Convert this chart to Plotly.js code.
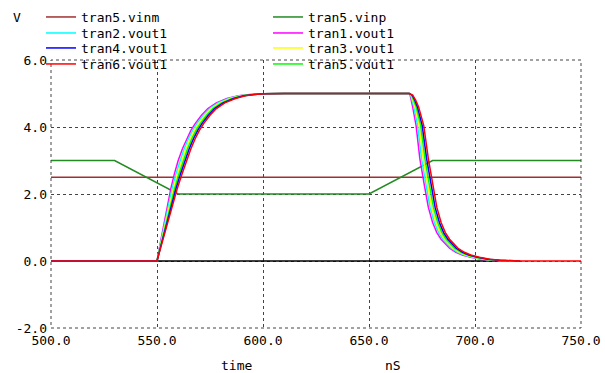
<!DOCTYPE html>
<html>
<head>
<meta charset="utf-8">
<script src="https://cdn.plot.ly/plotly-3.0.1.min.js"></script>
<style>html,body{margin:0;padding:0;background:#fff;}#chart{width:605px;height:373px;}</style>
</head>
<body>
<div id="chart"></div>
<script>
// ---- data ----
const tickVals = [500, 550, 600, 650, 700, 750];
const tickText = ["500.0", "550.0", "600.0", "650.0", "700.0", "750.0"];
const yTickVals = [-2, 0, 2, 4, 6];
const yTickText = ["-2.0", "0.0", "2.0", "4.0", "6.0"];

const vinmTime = [500, 750];
const vinmValues = [2.5, 2.5];
const vinpTime = [500, 530, 560, 650, 680, 750];
const vinpValues = [3.0, 3.0, 2.0, 2.0, 3.0, 3.0];
const groundTime = [550, 720];
const groundValues = [0, 0];

// shared voltage levels for the vout pulses (rise then fall)
const voutValues = [0, 0, 0.55, 1.1, 1.65, 2.15, 2.6, 3.0, 3.35, 3.65, 3.9, 4.1, 4.35, 4.55, 4.72, 4.85, 4.93, 4.97, 4.99, 5.0,
  5.0, 4.95, 4.8, 4.6, 4.05, 3.05, 2.3, 1.6, 1.15, 0.85, 0.65, 0.5, 0.38, 0.26, 0.18, 0.11, 0.05, 0.02, 0.01, 0];
const tran6Values = [0, 0, 0.55, 1.1, 1.65, 2.15, 2.6, 3.0, 3.35, 3.65, 3.9, 4.1, 4.35, 4.55, 4.72, 4.85, 4.93, 4.97, 4.99, 5.0,
  5.0, 4.95, 4.8, 4.6, 4.05, 3.05, 2.3, 1.6, 1.15, 0.85, 0.65, 0.5, 0.38, 0.26, 0.18, 0.11, 0.05, 0.02, 0.01, 0, 0];

const tran1Time = [500, 550, 551.6, 553.2, 554.8, 556.5, 558.2, 560, 562, 564, 566, 568, 571, 574, 578, 583, 588.4, 594, 599.4, 610,
  669, 669.4, 670, 670.6, 672.2, 674, 676, 678, 680, 682, 684, 686, 688, 691, 694, 698, 703, 708, 713, 718];
const tran2Time = [500, 550, 551.76, 553.52, 555.28, 557.1, 558.92, 560.8, 562.8, 564.8, 566.8, 568.8, 571.8, 574.8, 578.8, 583.8, 589.04, 594.4, 599.64, 610,
  669, 669.64, 670.4, 671.16, 672.92, 674.8, 676.8, 678.8, 680.8, 682.8, 684.8, 686.8, 688.8, 691.8, 694.8, 698.8, 703.8, 708.8, 713.8, 718.8];
const tran3Time = [500, 550, 551.92, 553.84, 555.76, 557.7, 559.64, 561.6, 563.6, 565.6, 567.6, 569.6, 572.6, 575.6, 579.6, 584.6, 589.68, 594.8, 599.88, 610,
  669, 669.88, 670.8, 671.72, 673.64, 675.6, 677.6, 679.6, 681.6, 683.6, 685.6, 687.6, 689.6, 692.6, 695.6, 699.6, 704.6, 709.6, 714.6, 719.6];
const tran5Time = [500, 550, 552.08, 554.16, 556.24, 558.3, 560.36, 562.4, 564.4, 566.4, 568.4, 570.4, 573.4, 576.4, 580.4, 585.4, 590.32, 595.2, 600.12, 610,
  669, 670.12, 671.2, 672.28, 674.36, 676.4, 678.4, 680.4, 682.4, 684.4, 686.4, 688.4, 690.4, 693.4, 696.4, 700.4, 705.4, 710.4, 715.4, 720.4];
const tran4Time = [500, 550, 552.24, 554.48, 556.72, 558.9, 561.08, 563.2, 565.2, 567.2, 569.2, 571.2, 574.2, 577.2, 581.2, 586.2, 590.96, 595.6, 600.36, 610,
  669, 670.36, 671.6, 672.84, 675.08, 677.2, 679.2, 681.2, 683.2, 685.2, 687.2, 689.2, 691.2, 694.2, 697.2, 701.2, 706.2, 711.2, 716.2, 721.2];
const tran6Time = [500, 550, 552.4, 554.8, 557.2, 559.5, 561.8, 564, 566, 568, 570, 572, 575, 578, 582, 587, 591.6, 596, 600.6, 610,
  669, 670.6, 672, 673.4, 675.8, 678, 680, 682, 684, 686, 688, 690, 692, 695, 698, 702, 707, 712, 717, 722, 750];

const FONT = "DejaVu Sans Mono, Liberation Mono, monospace";

function line(name, x, y, color, legendId, show) {
  return {type: 'scatter', mode: 'lines', name: name, x: x, y: y,
    line: {color: color, width: 1.5}, legend: legendId, showlegend: show !== false, hoverinfo: 'skip'};
}

const traces = [
  line('ground', groundTime, groundValues, '#000000', 'legend', false),
  line('tran5.vinm', vinmTime, vinmValues, '#a03030', 'legend'),
  line('tran5.vinp', vinpTime, vinpValues, '#228b22', 'legend2'),
  line('tran1.vout1', tran1Time, voutValues, '#ff00ff', 'legend4'),
  line('tran2.vout1', tran2Time, voutValues, '#00ffff', 'legend3'),
  line('tran3.vout1', tran3Time, voutValues, '#ffff00', 'legend6'),
  line('tran5.vout1', tran5Time, voutValues, '#00ff00', 'legend8'),
  line('tran4.vout1', tran4Time, voutValues, '#0000ff', 'legend5'),
  line('tran6.vout1', tran6Time, tran6Values, '#ff0000', 'legend7')
];

// legend placement (paper coords): two columns, four rows
const colX = [-0.0189, 0.4094];
const rowY = [1.1604, 1.1007, 1.0448, 0.9851];
function leg(col, row) {
  return {x: colX[col], y: rowY[row], xanchor: 'left', yanchor: 'middle', bgcolor: 'rgba(0,0,0,0)',
    borderwidth: 0, font: {family: FONT, size: 13, color: '#000000'}};
}

const layout = {
  width: 605, height: 373,
  margin: {l: 51, r: 24, t: 60, b: 45, pad: 0, autoexpand: false},
  paper_bgcolor: '#ffffff', plot_bgcolor: '#ffffff',
  font: {family: FONT, size: 13, color: '#000000'},
  showlegend: true,
  legend: leg(0, 0), legend2: leg(1, 0), legend3: leg(0, 1), legend4: leg(1, 1),
  legend5: leg(0, 2), legend6: leg(1, 2), legend7: leg(0, 3), legend8: leg(1, 3),
  xaxis: {range: [500, 750], tickvals: tickVals, ticktext: tickText, showgrid: true,
    gridcolor: '#444444', griddash: '3px,3px', gridwidth: 1, zeroline: false, showline: false,
    ticks: '', ticklabelstandoff: 3, tickfont: {family: FONT, size: 13}},
  yaxis: {range: [-2, 6], tickvals: yTickVals, ticktext: yTickText, showgrid: true,
    gridcolor: '#444444', griddash: '3px,3px', gridwidth: 1, zeroline: false, showline: false,
    ticks: '', ticklabelstandoff: 3, tickfont: {family: FONT, size: 13}},
  shapes: [{type: 'rect', xref: 'paper', yref: 'paper', x0: 0, x1: 1, y0: 0, y1: 1,
    line: {color: '#444444', width: 1, dash: '3px,3px'}}],
  annotations: [
    {text: 'V', xref: 'paper', yref: 'paper', x: -0.075, y: 1.1604, xanchor: 'left', yanchor: 'middle', showarrow: false, font: {family: FONT, size: 13}},
    {text: 'time', xref: 'paper', yref: 'paper', x: 0.35, y: -0.14, xanchor: 'center', yanchor: 'middle', showarrow: false, font: {family: FONT, size: 13}},
    {text: 'nS', xref: 'paper', yref: 'paper', x: 0.645, y: -0.14, xanchor: 'center', yanchor: 'middle', showarrow: false, font: {family: FONT, size: 13}}
  ]
};

Plotly.newPlot('chart', traces, layout, {displayModeBar: false, staticPlot: true});
</script>
</body>
</html>
